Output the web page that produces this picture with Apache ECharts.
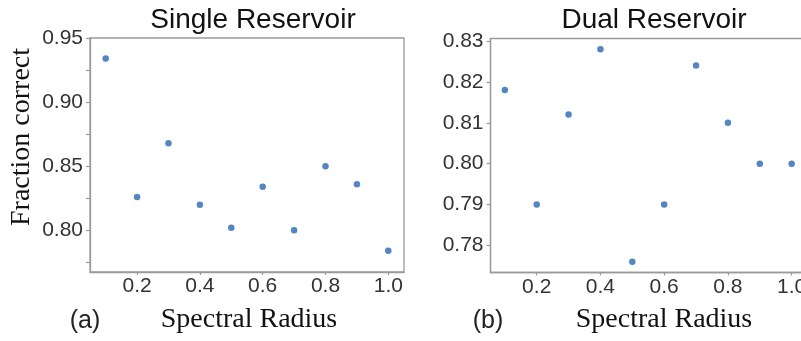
<!DOCTYPE html>
<html>
<head>
<meta charset="utf-8">
<script src="https://cdn.jsdelivr.net/npm/echarts@6/dist/echarts.min.js"></script>
<style>html,body{margin:0;padding:0;background:#fff;}#c{width:801px;height:341px;}</style>
</head>
<body>
<div id="c"></div>
<script>
// ---- data ----
var spectralRadius = [0.1, 0.2, 0.3, 0.4, 0.5, 0.6, 0.7, 0.8, 0.9, 1.0];
var singleReservoir = [0.934, 0.826, 0.868, 0.820, 0.802, 0.834, 0.800, 0.850, 0.836, 0.784];
var dualReservoir = [0.818, 0.790, 0.812, 0.828, 0.776, 0.790, 0.824, 0.810, 0.800, 0.800];
var xTicks = [0.2, 0.4, 0.6, 0.8, 1.0];
var singleYTicks = [0.80, 0.85, 0.90, 0.95];
var singleYMinorTicks = [0.775, 0.80, 0.825, 0.85, 0.875, 0.90, 0.925, 0.95];
var dualYTicks = [0.78, 0.79, 0.80, 0.81, 0.82, 0.83];
var titles = ['Single Reservoir', 'Dual Reservoir'];

var chart = echarts.init(document.getElementById('c'), null, {renderer: 'canvas'});
var lineColor = '#9a9a9a';
var labelColor = '#333';
var sans = 'Liberation Sans';
var serif = 'Liberation Serif';

function xAxis(gi, min, max) {
  return {
    type: 'value', gridIndex: gi, min: min, max: max,
    axisLine: {show: true, lineStyle: {color: lineColor, width: 1.3}},
    axisTick: {show: true, length: 3, customValues: xTicks, lineStyle: {color: lineColor, width: 1.2}},
    axisLabel: {customValues: xTicks, color: labelColor, fontFamily: sans, fontSize: 21, margin: 4,
      formatter: function (v) { return v.toFixed(1); }},
    splitLine: {show: false}
  };
}
function yAxis(gi, min, max, ticks, minor, digits) {
  return {
    type: 'value', gridIndex: gi, min: min, max: max,
    axisLine: {show: true, lineStyle: {color: lineColor, width: 1.3}},
    axisTick: {show: true, length: 4, customValues: minor, lineStyle: {color: lineColor, width: 1.2}},
    axisLabel: {customValues: ticks, color: labelColor, fontFamily: sans, fontSize: 21, margin: 7,
      formatter: function (v) { return v.toFixed(digits); }},
    splitLine: {show: false}
  };
}

chart.setOption({
  animation: false,
  backgroundColor: '#fff',
  title: [
    {text: titles[0], left: 248, top: 1, textAlign: 'center',
      textStyle: {fontFamily: sans, fontSize: 28, fontWeight: 'normal', color: '#111'}},
    {text: titles[1], left: 649, top: 1, textAlign: 'center',
      textStyle: {fontFamily: sans, fontSize: 28, fontWeight: 'normal', color: '#111'}}
  ],
  grid: [
    {left: 90, top: 38, width: 314, height: 234, show: true, borderColor: lineColor, borderWidth: 1.3,
      backgroundColor: 'transparent', outerBoundsMode: 'none', containLabel: false},
    {left: 490.5, top: 38.5, width: 315.5, height: 234, show: true, borderColor: lineColor, borderWidth: 1.3,
      backgroundColor: 'transparent', outerBoundsMode: 'none', containLabel: false}
  ],
  xAxis: [xAxis(0, 0.05, 1.05), xAxis(1, 0.055, 1.045)],
  yAxis: [
    yAxis(0, 0.7675, 0.95, singleYTicks, singleYMinorTicks, 2),
    yAxis(1, 0.7734, 0.8306, dualYTicks, dualYTicks, 2)
  ],
  series: [
    {type: 'scatter', xAxisIndex: 0, yAxisIndex: 0, symbolSize: 6.5,
      itemStyle: {color: '#2a68b0'},
      data: spectralRadius.map(function (x, i) { return [x, singleReservoir[i]]; })},
    {type: 'scatter', xAxisIndex: 1, yAxisIndex: 1, symbolSize: 6.5,
      itemStyle: {color: '#2a68b0'},
      data: spectralRadius.map(function (x, i) { return [x, dualReservoir[i]]; })}
  ],
  graphic: [
    {type: 'text', x: 249, y: 320, style: {text: 'Spectral Radius', font: '28px "Liberation Serif"', fill: '#111', align: 'center', verticalAlign: 'middle'}},
    {type: 'text', x: 664, y: 320, style: {text: 'Spectral Radius', font: '28px "Liberation Serif"', fill: '#111', align: 'center', verticalAlign: 'middle'}},
    {type: 'text', x: 85, y: 321, style: {text: '(a)', font: '25px "Liberation Sans"', fill: '#222', align: 'center', verticalAlign: 'middle'}},
    {type: 'text', x: 488, y: 321, style: {text: '(b)', font: '25px "Liberation Sans"', fill: '#222', align: 'center', verticalAlign: 'middle'}},
    {type: 'text', x: 22, y: 137, rotation: Math.PI / 2, style: {text: 'Fraction correct', font: '28px "Liberation Serif"', fill: '#111', align: 'center', verticalAlign: 'middle'}}
  ]
});
</script>
</body>
</html>
